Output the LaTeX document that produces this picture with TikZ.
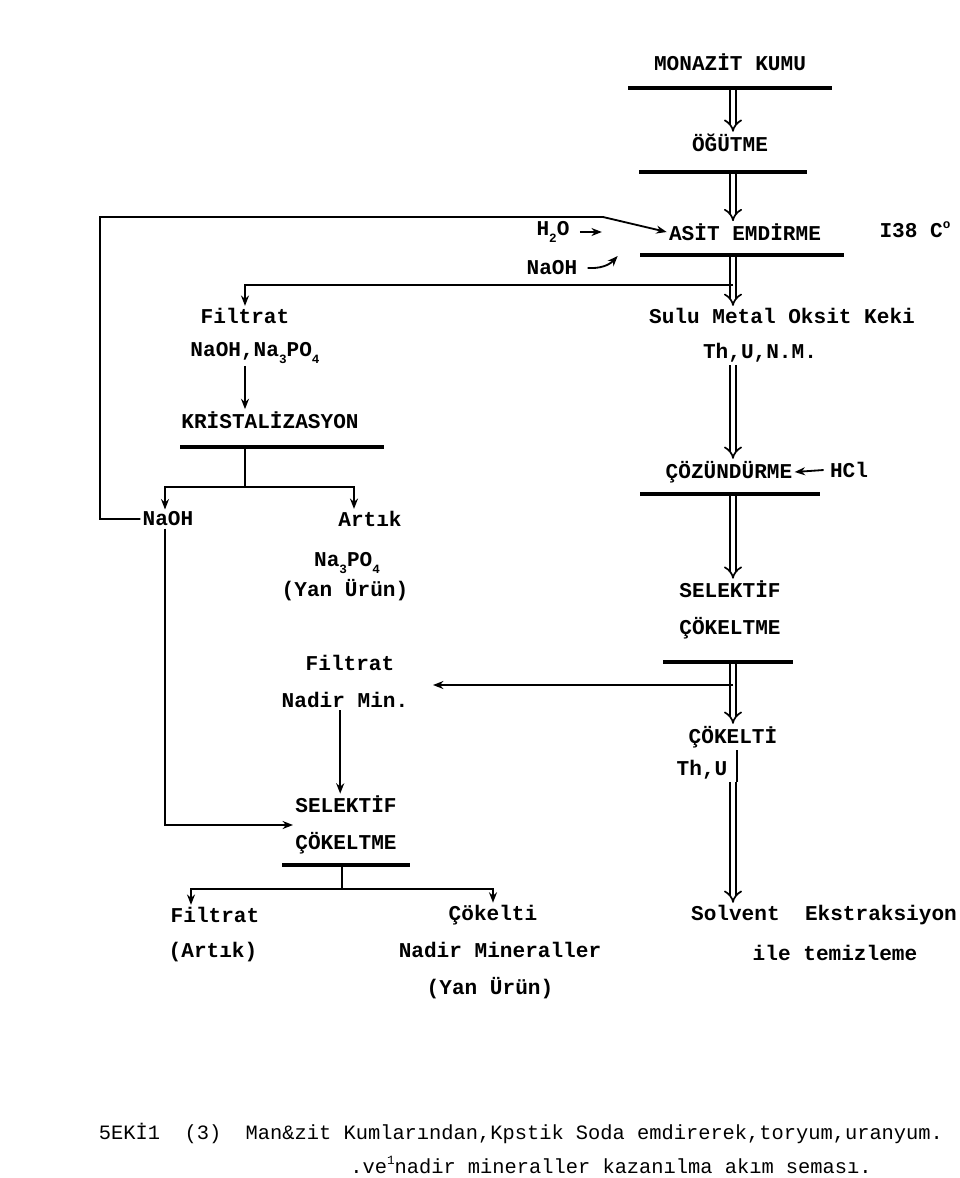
\documentclass[tikz,border=0pt]{standalone}
\usepackage{fontspec}
\setmainfont{Liberation Mono}
\usetikzlibrary{arrows.meta}
\newcommand{\dn}[1]{\raisebox{-0.6ex}{\small #1}}
\newcommand{\up}[1]{\raisebox{0.8ex}{\small #1}}
\tikzset{
  lbl/.style={font=\fontsize{15}{26}\selectfont\bfseries, align=center, inner sep=1.5pt},
  captxt/.style={font=\fontsize{14.5}{18}\selectfont},
  bar/.style={fill=black, inner sep=0pt, minimum height=2.8pt},
  dbl/.style={double, double distance=3.2pt, line width=1.2pt, -{Implies}},
  ln/.style={line width=1.3pt},
  arr/.style={line width=1.3pt, -{Stealth[length=2.6mm,width=2mm]}}
}
\begin{document}
\begin{tikzpicture}[x=0.25mm, y=-0.25mm]
  \useasboundingbox (0,0) rectangle (960,1178);
  \coordinate (sp) at (733,0);
  % main column
  \node[lbl] (monazit) at (730,62) {MONAZİT KUMU};
  \node[bar, minimum width=51.2mm] (bar1) at (730,88) {};
  \node[lbl] (ogutme) at (730,143) {ÖĞÜTME};
  \node[bar, minimum width=41.8mm] (bar2) at (723,172) {};
  \node[lbl] (asit) at (745,232) {ASİT EMDİRME};
  \node[lbl] (temp) at (915,230) {I38 C\up{o}};
  \node[bar, minimum width=51.2mm] (bar3) at (742,255) {};
  \node[lbl] (hiki) at (553,232) {H\dn{2}O};
  \node[lbl] (naoha) at (552,268) {NaOH};
  \node[lbl] (sulu) at (782,316) {Sulu Metal Oksit Keki};
  \node[lbl] (thnm) at (760,353) {Th,U,N.M.};
  \node[lbl] (cozun) at (729,472) {ÇÖZÜNDÜRME};
  \node[lbl] (hcl) at (849,470) {HCl};
  \node[bar, minimum width=45mm] (bar4) at (730,494) {};
  \node[lbl] (selekr) at (730,610) {SELEKTİF\\ÇÖKELTME};
  \node[bar, minimum width=32.5mm] (bar5) at (728,662) {};
  \node[lbl] (cokelti) at (733,737) {ÇÖKELTİ};
  \node[lbl] (thu) at (702,770) {Th,U};
  \node[lbl] (solvent) at (824,915) {Solvent~~Ekstraksiyon};
  \node[lbl] (ile) at (835,953) {ile temizleme};
  \draw[dbl] (bar1.south -| sp) -- (sp |- ogutme.north);
  \draw[dbl] (bar2.south -| sp) -- (sp |- asit.north);
  \draw[dbl] (bar3.south -| sp) -- (sp |- sulu.north);
  \draw[dbl] (thnm.south -| sp) -- (sp |- cozun.north);
  \draw[dbl] (bar4.south -| sp) -- (sp |- selekr.north);
  \draw[dbl] (bar5.south -| sp) -- (sp |- cokelti.north);
  \draw[ln] ([xshift=0.9mm]sp |- cokelti.south) -- ([xshift=0.9mm]sp |- thu.south);
  \draw[dbl] (sp |- thu.south) -- (sp |- solvent.north);
  \draw[arr] ([xshift=2mm]hiki.east) -- ++(22,0);
  \draw[arr] ([xshift=2mm]naoha.east) to[bend right=25] ++(30,-12);
  \draw[arr] ([xshift=-1mm]hcl.west) -- (cozun.east);
  % left column
  \node[lbl] (filtrata) at (245,316) {Filtrat};
  \node[lbl] (naohna) at (255,353) {NaOH,Na\dn{3}PO\dn{4}};
  \node[lbl] (kris) at (270,420) {KRİSTALİZASYON};
  \node[bar, minimum width=51.2mm] (bar6) at (282,447) {};
  \node[lbl] (naohb) at (168,519) {NaOH};
  \node[lbl] (artik) at (370,519) {Artık};
  \node[lbl] (natri) at (347,563) {Na\dn{3}PO\dn{4}};
  \node[lbl] (yana) at (345,590) {(Yan Ürün)};
  \node[lbl] (filtratb) at (350,663) {Filtrat};
  \node[lbl] (nadir) at (345,700) {Nadir Min.};
  \node[lbl] (selekl) at (346,825) {SELEKTİF\\ÇÖKELTME};
  \node[bar, minimum width=32mm] (bar7) at (346,865) {};
  \node[lbl] (filtratc) at (215,915) {Filtrat};
  \node[lbl] (artikb) at (213,952) {(Artık)};
  \node[lbl] (cokeltib) at (493,915) {Çökelti};
  \node[lbl] (nadirmin) at (500,950) {Nadir Mineraller};
  \node[lbl] (yanb) at (490,988) {(Yan Ürün)};
  \coordinate (fk) at (733,285);
  \coordinate (fba) at (100,217);
  \coordinate (fbb) at (603,217);
  \coordinate (ks) at (245,487);
  \coordinate (sl) at (733,685);
  \coordinate (nd) at (433,685);
  \coordinate (ss) at (342,889);
  \draw[arr] (fk) -| (filtrata.north);
  \draw[arr] (naohna.south -| ks) -- (kris.north -| ks);
  \draw[ln] (bar6.south -| ks) -- (ks);
  \draw[arr] (ks) -| ([xshift=-0.75mm]naohb.north);
  \draw[arr] (ks) -| ([xshift=-4mm]artik.north);
  \draw[arr] (naohb.west) -| (fba) -- (fbb) -- (asit.west);
  \draw[arr] (sl) -- (nd);
  \draw[arr] ([xshift=-1.2mm]nadir.south) -- ([xshift=-1.2mm]nadir.south |- selekl.north);
  \draw[arr] ([xshift=-0.75mm]naohb.south) |- (selekl.west);
  \draw[ln] (bar7.south -| ss) -- (ss);
  \draw[arr] (ss) -| ([xshift=-6mm]filtratc.north);
  \draw[arr] (ss) -| (cokeltib.north);
  % caption
  \node[captxt] (capa) at (521,1133) {5EKİ1~~(3)~~Man\&zit Kumlarından,Kpstik Soda emdirerek,toryum,uranyum.};
  \node[captxt] (capb) at (611,1165) {.ve\up{1}nadir mineraller kazanılma akım seması.};
\end{tikzpicture}
\end{document}
